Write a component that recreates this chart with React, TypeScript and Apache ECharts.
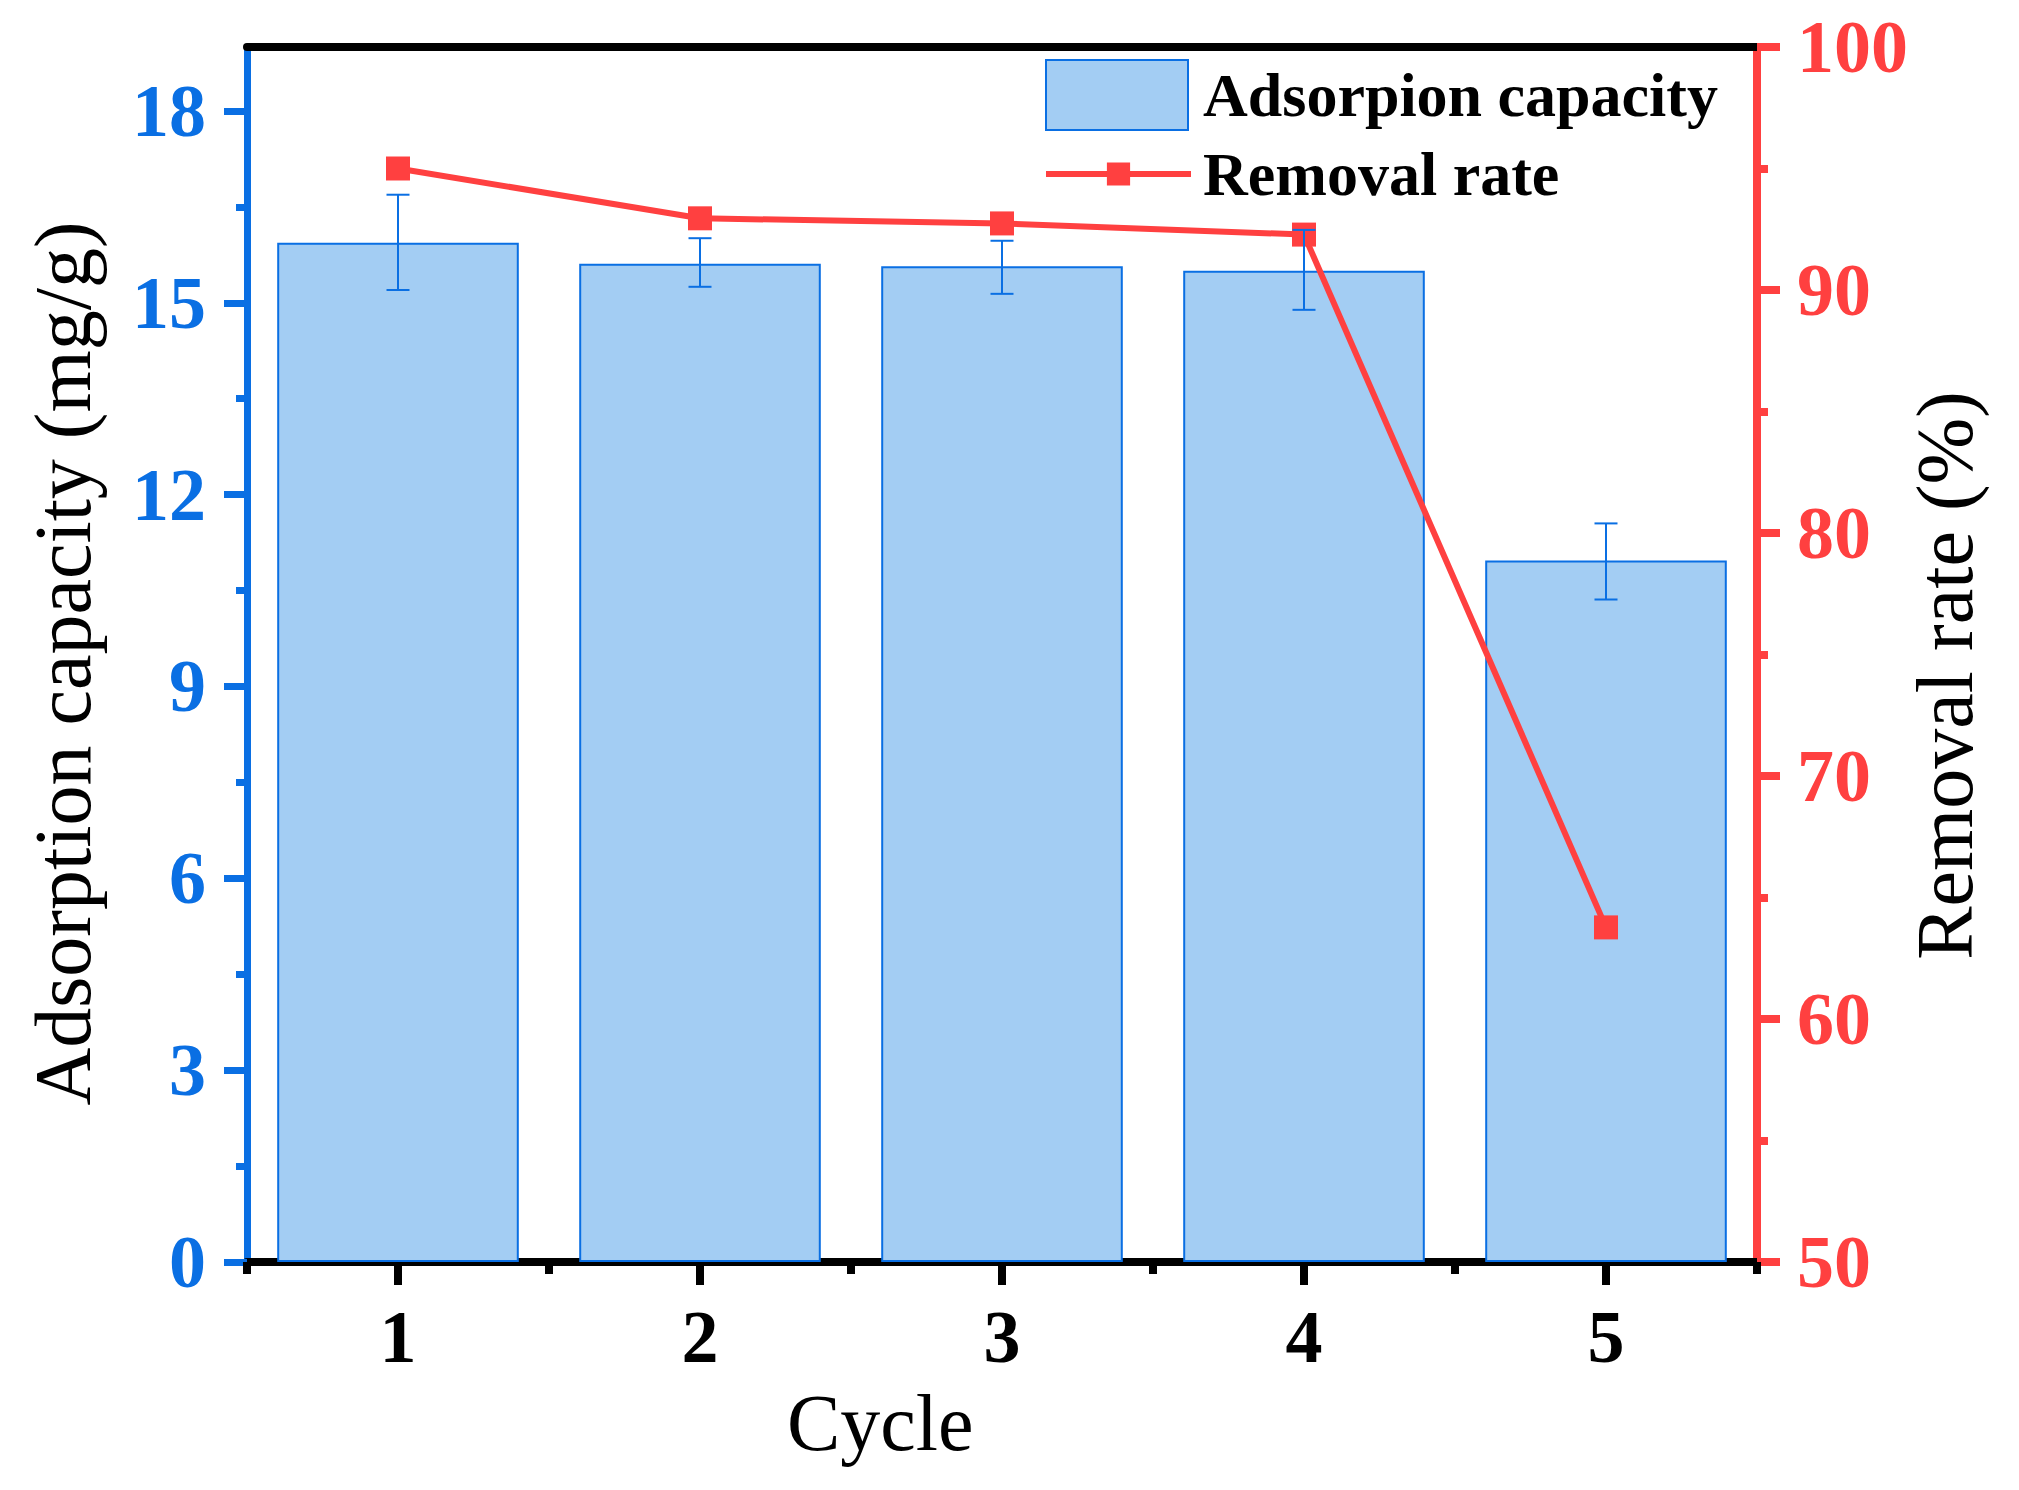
import React, { useEffect, useRef } from 'react';
import * as echarts from 'echarts';

const cycles = ['1', '2', '3', '4', '5'];
const capacity = [15.94, 15.61, 15.57, 15.5, 10.97];
const capacityLow = [15.2, 15.25, 15.14, 14.89, 10.36];
const capacityHigh = [16.69, 16.01, 15.97, 16.14, 11.55];
const removalRate = [95.0, 92.95, 92.74, 92.28, 63.77];
const leftTicks = [0, 3, 6, 9, 12, 15, 18];
const leftMinorTicks = [1.5, 4.5, 7.5, 10.5, 13.5, 16.5];

const FONT = '"Liberation Serif", "Times New Roman", serif';
const BLUE = '#0A6FE3';
const FILL = '#A3CDF3';
const RED = '#FF4040';

export default function App() {
  const ref = useRef<HTMLDivElement>(null);
  useEffect(() => {
    if (!ref.current) return;
    const chart = echarts.init(ref.current, null, { renderer: 'svg' });
    const errData = capacityLow.map((lo, i) => [i, lo, capacityHigh[i]]);
    const option: any = {
      animation: false,
      backgroundColor: '#fff',
      grid: { left: 247, right: 262, top: 47, bottom: 228, containLabel: false },
      title: {
        text: 'Cycle',
        left: 787,
        top: 1383,
        padding: 0,
        textStyle: { fontSize: 80, fontWeight: 'normal', fontFamily: FONT, color: '#000' },
      },
      legend: [
        {
          data: [{ name: 'Adsorpion capacity', icon: 'rect' }],
          left: 1045,
          top: 59,
          padding: 0,
          itemWidth: 142,
          itemHeight: 70,
          textStyle: { fontSize: 62, fontWeight: 'bold', fontFamily: FONT, color: '#000', padding: [0, 0, 0, 10] },
        },
        {
          data: ['Removal rate'],
          left: 1043,
          top: 143,
          padding: 0,
          itemWidth: 145,
          itemHeight: 29,
          lineStyle: { width: 6 },
          textStyle: { fontSize: 62, fontWeight: 'bold', fontFamily: FONT, color: '#000', padding: [0, 0, 0, 7] },
        },
      ],
      xAxis: [
        {
          type: 'category',
          data: cycles,
          position: 'bottom',
          axisLine: { show: true, lineStyle: { color: '#000', width: 8 } },
          axisTick: { show: true, alignWithLabel: true, length: 23, lineStyle: { color: '#000', width: 8 } },
          axisLabel: { margin: 38, fontSize: 74, fontWeight: 'bold', fontFamily: FONT, color: '#000' },
          splitLine: { show: false },
        },
        {
          type: 'category',
          data: cycles,
          position: 'bottom',
          axisLine: { show: false },
          axisTick: { show: true, length: 12, lineStyle: { color: '#000', width: 8 } },
          axisLabel: { show: false },
          splitLine: { show: false },
        },
        {
          type: 'category',
          data: cycles,
          position: 'top',
          axisLine: { show: true, lineStyle: { color: '#000', width: 8 } },
          axisTick: { show: false },
          axisLabel: { show: false },
          splitLine: { show: false },
        },
      ],
      yAxis: [
        {
          type: 'value',
          position: 'left',
          min: 0,
          max: 19,
          name: 'Adsorption capacity (mg/g)',
          nameLocation: 'middle',
          nameRotate: 90,
          nameGap: 144,
          nameMoveOverlap: false,
          nameTextStyle: { fontSize: 80, fontFamily: FONT, color: '#000', padding: [0, 18, 0, 0] },
          axisLine: { show: true, lineStyle: { color: BLUE, width: 7 } },
          axisTick: { show: true, customValues: leftTicks, length: 23, lineStyle: { color: BLUE, width: 7 } },
          axisLabel: { customValues: leftTicks, margin: 41, fontSize: 74, fontWeight: 'bold', fontFamily: FONT, color: BLUE },
          splitLine: { show: false },
        },
        {
          type: 'value',
          position: 'right',
          min: 50,
          max: 100,
          interval: 10,
          name: 'Removal rate (%)',
          nameLocation: 'middle',
          nameRotate: 90,
          nameGap: 148,
          nameMoveOverlap: false,
          nameTextStyle: { fontSize: 80, fontFamily: FONT, color: '#000', padding: [0, 42, 0, 0] },
          axisLine: { show: true, lineStyle: { color: RED, width: 8 } },
          axisTick: { show: true, length: 23, lineStyle: { color: RED, width: 8 } },
          minorTick: { show: true, splitNumber: 2, length: 11, lineStyle: { color: RED, width: 8 } },
          axisLabel: { margin: 40, fontSize: 74, fontWeight: 'bold', fontFamily: FONT, color: RED },
          splitLine: { show: false },
          minorSplitLine: { show: false },
        },
        {
          type: 'value',
          position: 'left',
          min: 0,
          max: 19,
          axisLine: { show: false },
          axisTick: { show: true, customValues: leftMinorTicks, length: 11, lineStyle: { color: BLUE, width: 7 } },
          axisLabel: { show: false },
          splitLine: { show: false },
        },
      ],
      series: [
        {
          type: 'bar',
          name: 'Adsorpion capacity',
          data: capacity,
          xAxisIndex: 0,
          yAxisIndex: 0,
          barWidth: '80%',
          itemStyle: { color: FILL, borderColor: BLUE, borderWidth: 2 },
          z: 2,
        },
        {
          type: 'line',
          name: 'Removal rate',
          data: removalRate,
          xAxisIndex: 0,
          yAxisIndex: 1,
          symbol: 'rect',
          symbolSize: 24,
          lineStyle: { color: RED, width: 6 },
          itemStyle: { color: RED },
          z: 3,
        },
        {
          type: 'custom',
          name: 'error',
          xAxisIndex: 0,
          yAxisIndex: 0,
          data: errData,
          encode: { x: 0, y: [1, 2] },
          z: 4,
          renderItem: (params: any, api: any) => {
            const x = api.value(0);
            const lo = api.coord([x, api.value(1)]);
            const hi = api.coord([x, api.value(2)]);
            const half = 11.5;
            const style = { stroke: BLUE, lineWidth: 2 };
            return {
              type: 'group',
              children: [
                { type: 'line', shape: { x1: hi[0], y1: hi[1], x2: lo[0], y2: lo[1] }, style },
                { type: 'line', shape: { x1: hi[0] - half, y1: hi[1], x2: hi[0] + half, y2: hi[1] }, style },
                { type: 'line', shape: { x1: lo[0] - half, y1: lo[1], x2: lo[0] + half, y2: lo[1] }, style },
              ],
            };
          },
        },
      ],
    };
    chart.setOption(option);
    return () => chart.dispose();
  }, []);
  return <div ref={ref} style={{ position: 'absolute', left: 0, top: 0, width: 2019, height: 1490 }} />;
}
